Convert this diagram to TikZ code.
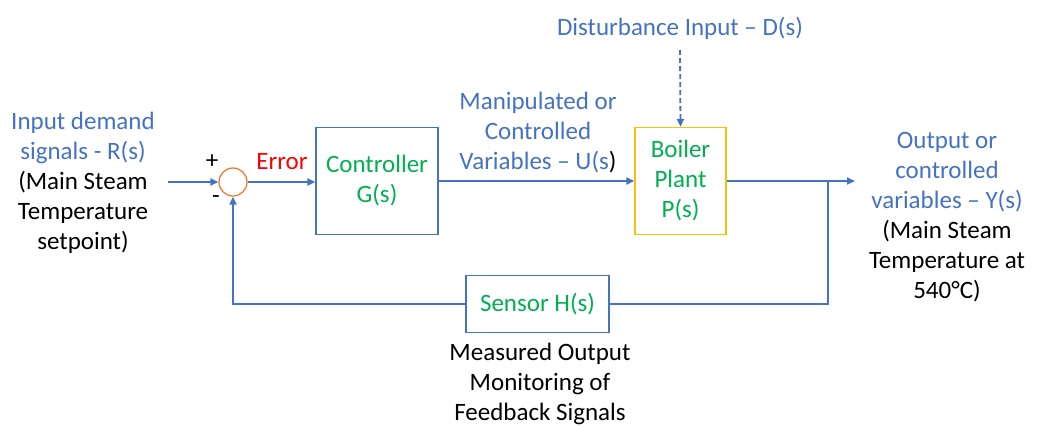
\documentclass[tikz,border=0pt]{standalone}
\usepackage{fontspec}
\setmainfont{Carlito}
\usetikzlibrary{arrows.meta}
\definecolor{offblue}{HTML}{4472C4}
\definecolor{offgreen}{HTML}{00B050}
\definecolor{offorange}{HTML}{ED7D31}
\definecolor{offyellow}{HTML}{FFC000}
\begin{document}
\begin{tikzpicture}[x=1pt, y=-1pt,
                every node/.style = {align=center, inner sep=0pt,
                        font=\fontsize{25}{30}\selectfont
                    },
                block/.style = {draw=offblue, line width=1.3pt, text=offgreen},
                signal/.style = {draw=offblue, line width=2.4pt,
                        -{Triangle[length=8pt,width=7pt]}
                    },
                link/.style = {draw=offblue, line width=2.4pt}]
            \useasboundingbox (0,0) rectangle (1044,426);
            % blocks
            \node[circle, draw=offorange, line width=1.3pt, minimum size=28pt] (sum) at (233,182) {};
            \node[block, minimum width=122pt, minimum height=107pt] (ctrl) at (377,181) {Controller\\G(s)};
            \node[block, draw=offyellow, minimum width=91pt, minimum height=107pt] (plant) at (680.5,181) {Boiler\\Plant\\P(s)};
            \node[block, minimum width=143pt, minimum height=57pt] (sensor) at (537.5,304) {Sensor H(s)};
            % labels
            \node[text=offblue] (dist) at (680,28) {Disturbance Input -- D(s)};
            \node (input) at (83,182.5) {\textcolor{offblue}{Input demand}\\\textcolor{offblue}{signals - R(s)}\\(Main Steam\\Temperature\\setpoint)};
            \node (output) at (947,217.5) {\textcolor{offblue}{Output or}\\\textcolor{offblue}{controlled}\\\textcolor{offblue}{variables -- Y(s)}\\(Main Steam\\Temperature at\\540°C)};
            \node[text=offblue] (manip) at (538,133) {Manipulated or\\Controlled\\Variables -- U(s\textcolor{black}{)}};
            \node (meas) at (540,384) {Measured Output\\Monitoring of\\Feedback Signals};
            \node[text=red] (err) at (282,162) {Error};
            \node (plus) at (212,162) {+};
            \node (minus) at (216,200) {-};
            % connectors
            \coordinate (in) at (168,182);
            \coordinate (out) at (855,181);
            \coordinate (branch) at (828,181);
            \coordinate (dtop) at (680,50);
            \draw[signal] (in) -- (sum);
            \draw[signal] (sum) -- (sum -| ctrl.west);
            \draw[signal] (ctrl) -- (plant);
            \draw[signal] (plant.east) -- (out);
            \draw[signal, line width=1.8pt, dash pattern=on 5pt off 3pt] (dtop) -- (plant.north);
            \draw[link] (branch) |- (sensor.east);
            \draw[signal] (sensor.west) -| (sum.south);
        \end{tikzpicture}
\end{document}
